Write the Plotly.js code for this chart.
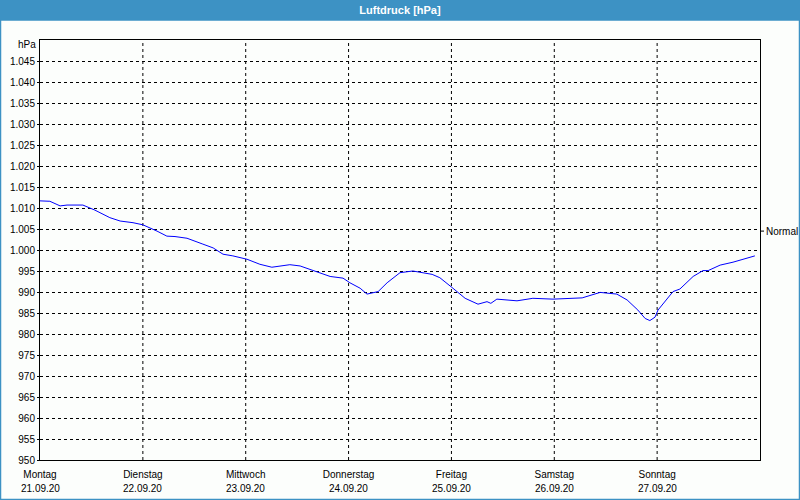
<!DOCTYPE html>
<html>
<head>
<meta charset="utf-8">
<script src="https://cdn.plot.ly/plotly-3.0.1.min.js"></script>
<style>
html,body{margin:0;padding:0;background:#ffffff;}
#chart{width:800px;height:500px;}
</style>
</head>
<body>
<div id="chart"></div>
<script>
// hours since Montag 21.09.20 00:00
var hours = [0, 2.3, 4.7, 6.3, 10.0, 12.8, 16.3, 18.7, 21.7, 24.0, 27.3, 29.6, 31.5, 34.3, 38.0, 40.4, 42.7, 45.0, 48.3, 51.3, 54.1, 56.0, 58.3, 60.7, 63.7, 67.7, 70.7, 72.3, 74.7, 76.3, 78.9, 81.0, 84.0, 87.0, 91.5, 93.3, 96.1, 99.2, 102.2, 104.3, 105.2, 106.6, 111.3, 115.0, 119.7, 123.7, 126.5, 130.7, 134.6, 137.0, 139.5, 141.2, 142.3, 143.5, 144.2, 147.7, 149.3, 152.4, 154.7, 155.9, 158.7, 161.7, 163.3, 165.0, 166.8];
var pressure = [1011.7, 1011.6, 1010.5, 1010.7, 1010.7, 1009.5, 1007.7, 1006.9, 1006.5, 1006.0, 1004.5, 1003.3, 1003.2, 1002.8, 1001.4, 1000.5, 999.0, 998.6, 997.8, 996.6, 995.9, 996.1, 996.5, 996.2, 995.2, 993.7, 993.3, 992.2, 990.9, 989.5, 990.1, 992.2, 994.6, 995.0, 994.2, 993.4, 991.1, 988.5, 987.1, 987.7, 987.3, 988.3, 987.9, 988.5, 988.3, 988.5, 988.6, 989.9, 989.5, 988.1, 985.7, 983.7, 983.2, 984.0, 985.7, 990.1, 990.7, 993.7, 995.1, 995.1, 996.4, 997.1, 997.6, 998.2, 998.6];
var normalValue = 1004.5;

var dayTicks = [0, 24, 48, 72, 96, 120, 144];
var dayNames = ["Montag", "Dienstag", "Mittwoch", "Donnerstag", "Freitag", "Samstag", "Sonntag"];
var dayDates = ["21.09.20", "22.09.20", "23.09.20", "24.09.20", "25.09.20", "26.09.20", "27.09.20"];
var yTicks = [950, 955, 960, 965, 970, 975, 980, 985, 990, 995, 1000, 1005, 1010, 1015, 1020, 1025, 1030, 1035, 1040, 1045];
var yTickText = yTicks.map(function(v){
  return v >= 1000 ? "1." + String(v).slice(1) : String(v);
});

var FONT = "Liberation Sans, Arial, sans-serif";
var FS = 10;
var plotH = 420, plotW = 720;

var shapes = [];
// title bar
shapes.push({type:"rect", xref:"paper", yref:"paper", x0:-40/plotW, x1:1+40/plotW, y0:1+20/plotH, y1:1+40/plotH, fillcolor:"#3d92c4", line:{width:0}, layer:"below"});
// outer border
shapes.push({type:"rect", xref:"paper", yref:"paper", x0:-39.5/plotW, x1:1+39.5/plotW, y0:-39.5/plotH, y1:1+20/plotH, fillcolor:"rgba(0,0,0,0)", line:{color:"#3d92c4", width:1.5}});
// vertical dashed day lines
dayTicks.slice(1).forEach(function(h){
  shapes.push({type:"line", xref:"x", yref:"paper", x0:h, x1:h, y0:0, y1:1, line:{color:"#000", width:1, dash:"3px,3px"}, layer:"below"});
});
// normal marker tick
shapes.push({type:"line", xref:"paper", yref:"y", x0:1, x1:1+4/plotW, y0:normalValue, y1:normalValue, line:{color:"#000", width:1}});

var annotations = [];
dayTicks.forEach(function(h, i){
  annotations.push({x:h, y:0, xref:"x", yref:"paper", yshift:-28, text:dayDates[i], showarrow:false, font:{family:FONT, size:FS, color:"#000"}, xanchor:"center", yanchor:"middle"});
});
annotations.push({x:0, y:1, xref:"paper", yref:"paper", xshift:-2, yshift:-4, text:"hPa", showarrow:false, font:{family:FONT, size:FS, color:"#000"}, xanchor:"right", yanchor:"middle"});
annotations.push({x:1, y:normalValue, xref:"paper", yref:"y", xshift:4, text:"Normal", showarrow:false, font:{family:FONT, size:FS, color:"#000"}, xanchor:"left", yanchor:"middle"});

var trace = {x:hours, y:pressure, type:"scatter", mode:"lines", line:{color:"#0000ff", width:1}, hoverinfo:"skip"};

var layout = {
  width:800, height:500,
  paper_bgcolor:"#fcfefc", plot_bgcolor:"#fcfefc",
  margin:{l:40, r:40, t:40, b:40},
  showlegend:false,
  title:{text:"<b>Luftdruck [hPa]</b>", font:{family:FONT, size:11, color:"#ffffff"}, x:0.5, xanchor:"center", y:1-10/500, yanchor:"middle", yref:"container"},
  xaxis:{range:[0,168], tickmode:"array", tickvals:dayTicks, ticktext:dayNames, showgrid:false, zeroline:false,
         showline:true, linecolor:"#000", linewidth:1, mirror:true, ticks:"", tickfont:{family:FONT, size:FS, color:"#000"}, ticklabelstandoff:5},
  yaxis:{range:[950,1050], tickmode:"array", tickvals:yTicks, ticktext:yTickText, showgrid:true, gridcolor:"#000", griddash:"3px,3px", gridwidth:1,
         zeroline:false, showline:true, linecolor:"#000", linewidth:1, mirror:true, ticks:"outside", ticklen:2, tickcolor:"#000",
         tickfont:{family:FONT, size:FS, color:"#000"}},
  shapes:shapes,
  annotations:annotations
};

Plotly.newPlot("chart", [trace], layout, {staticPlot:true});
</script>
</body>
</html>
